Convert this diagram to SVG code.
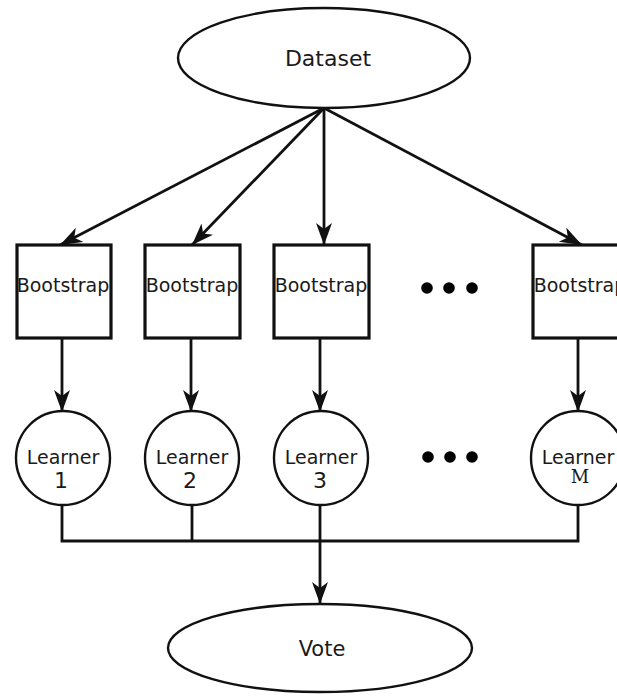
<svg xmlns="http://www.w3.org/2000/svg" width="617" height="696" viewBox="0 0 617 696">
<style>
.sh{fill:#fff;stroke:#111;stroke-width:2.4}
.box{fill:#fff;stroke:#111;stroke-width:3.2}
.t{font-family:"DejaVu Sans",sans-serif;fill:#1a1a1a;text-anchor:middle}
.n{font-family:"DejaVu Sans",sans-serif;fill:#1a1a1a;text-anchor:middle;font-size:22px}
.c{fill:none;stroke:#111;stroke-width:2.8}
</style>
<defs>
<marker id="ah" markerUnits="userSpaceOnUse" markerWidth="26" markerHeight="20" refX="22" refY="8" orient="auto">
<path d="M0,0 L22,8 L0,16 L6,8 z" fill="#111"/>
</marker>
</defs>
<rect width="617" height="696" fill="#fff"/>
<g id="connectors">
<line class="c" x1="324" y1="108" x2="60" y2="245" marker-end="url(#ah)"/>
<line class="c" x1="324" y1="108" x2="192" y2="245" marker-end="url(#ah)"/>
<line class="c" x1="324" y1="108" x2="324" y2="245" marker-end="url(#ah)"/>
<line class="c" x1="324" y1="108" x2="582" y2="245" marker-end="url(#ah)"/>
<line class="c" x1="62" y1="338" x2="62" y2="412" marker-end="url(#ah)"/>
<line class="c" x1="191" y1="338" x2="191" y2="412" marker-end="url(#ah)"/>
<line class="c" x1="320" y1="338" x2="320" y2="412" marker-end="url(#ah)"/>
<line class="c" x1="578" y1="338" x2="578" y2="412" marker-end="url(#ah)"/>
<polyline class="c" points="62,505 62,541 578,541 578,505"/>
<line class="c" x1="192" y1="505" x2="192" y2="541"/>
<line class="c" x1="320" y1="505" x2="320" y2="604" marker-end="url(#ah)"/>
</g>
<g id="dataset">
<ellipse class="sh" cx="324" cy="58" rx="146" ry="50"/>
<text class="t" x="328" y="66" font-size="22">Dataset</text>
</g>
<g id="bootstrap1"><rect class="box" x="17" y="245" width="94" height="93"/><text class="t" x="63" y="292" font-size="19">Bootstrap</text></g>
<g id="bootstrap2"><rect class="box" x="145" y="245" width="95" height="93"/><text class="t" x="192" y="292" font-size="19">Bootstrap</text></g>
<g id="bootstrap3"><rect class="box" x="274" y="245" width="95" height="93"/><text class="t" x="321" y="292" font-size="19">Bootstrap</text></g>
<g id="bootstrapM"><rect class="box" x="533" y="245" width="95" height="93"/><text class="t" x="580" y="292" font-size="19">Bootstrap</text></g>
<g id="dots1"><circle cx="427" cy="288" r="5.8" fill="#000"/><circle cx="449" cy="288" r="5.8" fill="#000"/><circle cx="472" cy="288" r="5.8" fill="#000"/></g>
<g id="learner1"><circle class="sh" cx="63" cy="458" r="47"/><text class="t" x="63" y="464" font-size="19">Learner</text><text class="n" x="61" y="488">1</text></g>
<g id="learner2"><circle class="sh" cx="192" cy="458" r="47"/><text class="t" x="192" y="464" font-size="19">Learner</text><text class="n" x="190" y="488">2</text></g>
<g id="learner3"><circle class="sh" cx="321" cy="458" r="47"/><text class="t" x="321" y="464" font-size="19">Learner</text><text class="n" x="320" y="488">3</text></g>
<g id="learnerM"><circle class="sh" cx="578" cy="458" r="47"/><text class="t" x="578" y="464" font-size="19">Learner</text><text x="580" y="483" font-family="DejaVu Serif,serif" font-size="18" fill="#1a1a1a" text-anchor="middle">M</text></g>
<g id="dots2"><circle cx="428" cy="457" r="5.8" fill="#000"/><circle cx="450" cy="457" r="5.8" fill="#000"/><circle cx="472" cy="457" r="5.8" fill="#000"/></g>
<g id="vote">
<ellipse class="sh" cx="320" cy="648" rx="152" ry="44"/>
<text class="t" x="322" y="656" font-size="21">Vote</text>
</g>
</svg>
